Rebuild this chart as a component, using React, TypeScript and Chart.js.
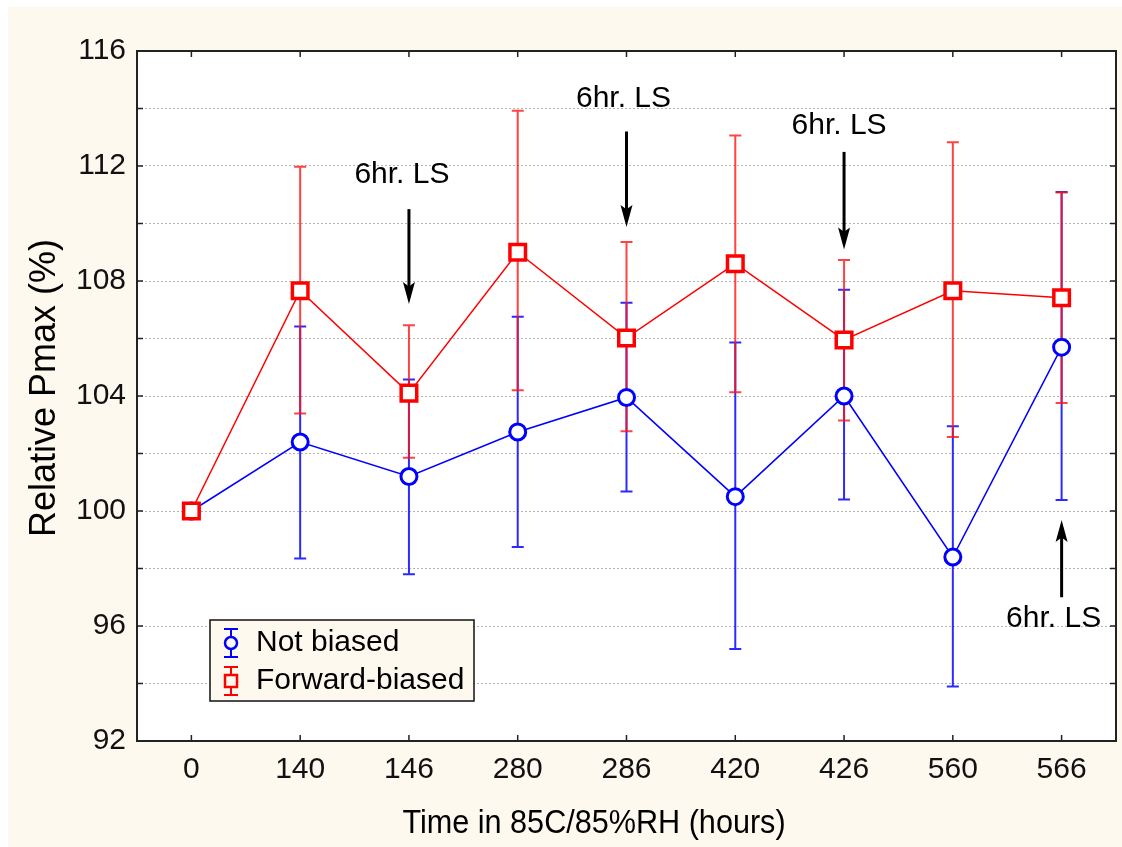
import React, { useEffect, useRef } from 'react';
import { Chart, registerables } from 'chart.js';

Chart.register(...registerables);

const categories = ['0', '140', '146', '280', '286', '420', '426', '560', '566'];

const notBiased = [100, 102.4, 101.2, 102.75, 103.95, 100.5, 104.0, 98.4, 105.7];
const notBiasedLow = [null, 98.35, 97.8, 98.75, 100.68, 95.2, 100.4, 93.9, 100.38];
const notBiasedHigh = [null, 106.42, 104.57, 106.76, 107.24, 105.86, 107.7, 102.95, 111.1];

const forwardBiased = [100, 107.66, 104.1, 109.0, 106.02, 108.6, 105.95, 107.66, 107.42];
const forwardLow = [null, 103.39, 101.85, 104.2, 102.77, 104.13, 103.15, 102.57, 103.76];
const forwardHigh = [null, 111.97, 106.46, 113.92, 109.36, 113.06, 108.73, 112.83, 111.08];

const yMin = 92;
const yMax = 116;
const yStep = 2;
const yLabelEvery = 4;

const seriesNames = ['Not biased', 'Forward-biased'];

const annotationText = '6hr. LS';
const annotationIndex = [2, 4, 6, 8];
const annotationLabelValue = [111.4, 114.05, 113.1, 95.96];
const arrowTailValue = [110.5, 113.2, 112.49, 97.0];
const arrowTipValue = [107.2, 109.88, 109.1, 99.69];

const xTitle = 'Time in 85C/85%RH (hours)';
const yTitle = 'Relative Pmax (%)';

const FONT = '"Liberation Sans", Arial, Helvetica, sans-serif';
const CREAM = '#fef9ef';
const BLUE = '#0000ff';
const RED = '#ff0000';

export default function App() {
  const ref = useRef<HTMLCanvasElement>(null);

  useEffect(() => {
    const canvas = ref.current;
    if (!canvas) return;

    const background = {
      id: 'bg',
      beforeDraw(chart: any) {
        const { ctx, chartArea } = chart;
        ctx.save();
        ctx.fillStyle = CREAM;
        ctx.fillRect(0, 0, chart.width, chart.height);
        ctx.fillStyle = '#ffffff';
        ctx.fillRect(chartArea.left, chartArea.top, chartArea.right - chartArea.left, chartArea.bottom - chartArea.top);
        ctx.restore();
      },
    };

    const drawErr = (chart: any, low: (number | null)[], high: (number | null)[], color: string) => {
      const { ctx, scales } = chart;
      const xs = scales.x;
      const ys = scales.y;
      ctx.save();
      ctx.strokeStyle = color;
      ctx.lineWidth = 2;
      for (let i = 0; i < categories.length; i++) {
        const lo = low[i];
        const hi = high[i];
        if (lo == null || hi == null) continue;
        const x = xs.getPixelForValue(i);
        const y1 = ys.getPixelForValue(lo);
        const y2 = ys.getPixelForValue(hi);
        ctx.beginPath();
        ctx.moveTo(x, y1);
        ctx.lineTo(x, y2);
        ctx.moveTo(x - 6, y1);
        ctx.lineTo(x + 6, y1);
        ctx.moveTo(x - 6, y2);
        ctx.lineTo(x + 6, y2);
        ctx.stroke();
      }
      ctx.restore();
    };

    const errorBars = {
      id: 'errorBars',
      beforeDatasetsDraw(chart: any) {
        drawErr(chart, notBiasedLow, notBiasedHigh, 'rgba(20,20,255,0.9)');
        drawErr(chart, forwardLow, forwardHigh, 'rgba(255,20,20,0.8)');
      },
    };

    const overlay = {
      id: 'overlay',
      afterDraw(chart: any) {
        const { ctx, chartArea, scales } = chart;
        const xs = scales.x;
        const ys = scales.y;
        const { left, right, top, bottom } = chartArea;
        ctx.save();

        // frame
        ctx.strokeStyle = '#222';
        ctx.lineWidth = 2;
        ctx.strokeRect(left, top, right - left, bottom - top);

        // inward ticks
        ctx.lineWidth = 1.5;
        ctx.beginPath();
        for (let i = 0; i < categories.length; i++) {
          const x = xs.getPixelForValue(i);
          ctx.moveTo(x, bottom);
          ctx.lineTo(x, bottom - 6);
          ctx.moveTo(x, top);
          ctx.lineTo(x, top + 6);
        }
        for (let v = yMin; v <= yMax; v += yStep) {
          const y = ys.getPixelForValue(v);
          ctx.moveTo(left, y);
          ctx.lineTo(left + 6, y);
          ctx.moveTo(right, y);
          ctx.lineTo(right - 6, y);
        }
        ctx.stroke();

        // annotations
        const labelOffsets = [-7, -3, -5, -8];
        ctx.fillStyle = '#000';
        ctx.strokeStyle = '#000';
        ctx.font = `30px ${FONT}`;
        ctx.textAlign = 'center';
        ctx.textBaseline = 'alphabetic';
        for (let k = 0; k < annotationIndex.length; k++) {
          const x = xs.getPixelForValue(annotationIndex[k]);
          ctx.fillText(annotationText, x + labelOffsets[k], ys.getPixelForValue(annotationLabelValue[k]));
          const yt = ys.getPixelForValue(arrowTailValue[k]);
          const yp = ys.getPixelForValue(arrowTipValue[k]);
          const dir = yp > yt ? 1 : -1;
          const headLen = 22;
          ctx.lineWidth = 3;
          ctx.beginPath();
          ctx.moveTo(x, yt);
          ctx.lineTo(x, yp - dir * headLen * 0.6);
          ctx.stroke();
          ctx.beginPath();
          ctx.moveTo(x, yp);
          ctx.lineTo(x - 6, yp - dir * headLen);
          ctx.lineTo(x, yp - dir * headLen * 0.8);
          ctx.lineTo(x + 6, yp - dir * headLen);
          ctx.closePath();
          ctx.fill();
        }

        // legend
        const bx = left + 73;
        const by = bottom - 121;
        const bw = 264;
        const bh = 81;
        ctx.fillStyle = CREAM;
        ctx.fillRect(bx, by, bw, bh);
        ctx.strokeStyle = '#111';
        ctx.lineWidth = 1.5;
        ctx.strokeRect(bx, by, bw, bh);
        const sx = left + 94;
        const rows = [bottom - 98, bottom - 60];
        const colors = [BLUE, RED];
        for (let r = 0; r < 2; r++) {
          const cy = rows[r];
          ctx.strokeStyle = colors[r];
          ctx.lineWidth = 2;
          ctx.beginPath();
          ctx.moveTo(sx, cy - 14);
          ctx.lineTo(sx, cy + 14);
          ctx.moveTo(sx - 7, cy - 14);
          ctx.lineTo(sx + 7, cy - 14);
          ctx.moveTo(sx - 7, cy + 14);
          ctx.lineTo(sx + 7, cy + 14);
          ctx.stroke();
          ctx.fillStyle = CREAM;
          ctx.lineWidth = 2.5;
          ctx.beginPath();
          if (r === 0) {
            ctx.arc(sx, cy, 6, 0, Math.PI * 2);
          } else {
            ctx.rect(sx - 6, cy - 6, 12, 12);
          }
          ctx.fill();
          ctx.stroke();
          ctx.fillStyle = '#000';
          ctx.font = `30px ${FONT}`;
          ctx.textAlign = 'left';
          ctx.textBaseline = 'middle';
          ctx.fillText(seriesNames[r], left + 119, cy);
        }

        // axis titles
        ctx.fillStyle = '#000';
        ctx.textAlign = 'center';
        ctx.textBaseline = 'alphabetic';
        ctx.save();
        ctx.font = `34px ${FONT}`;
        ctx.translate(586, 826);
        ctx.scale(0.9, 1);
        ctx.fillText(xTitle, 0, 0);
        ctx.restore();
        ctx.save();
        ctx.font = `36px ${FONT}`;
        ctx.translate(37, 381);
        ctx.rotate(-Math.PI / 2);
        ctx.textBaseline = 'middle';
        ctx.fillText(yTitle, 0, 0);
        ctx.restore();

        ctx.restore();
      },
    };

    const chart = new Chart(canvas, {
      type: 'line',
      data: {
        labels: categories,
        datasets: [
          {
            label: seriesNames[1],
            data: forwardBiased,
            borderColor: RED,
            borderWidth: 1.5,
            pointStyle: 'rect',
            pointRadius: 11,
            pointBorderWidth: 3.5,
            pointBackgroundColor: '#ffffff',
            pointBorderColor: RED,
            tension: 0,
            order: 0,
          },
          {
            label: seriesNames[0],
            data: notBiased,
            borderColor: BLUE,
            borderWidth: 1.5,
            pointStyle: 'circle',
            pointRadius: 8,
            pointBorderWidth: 3,
            pointBackgroundColor: '#ffffff',
            pointBorderColor: BLUE,
            tension: 0,
            order: 1,
          },
        ],
      },
      options: {
        responsive: false,
        animation: false,
        layout: { autoPadding: false, padding: { top: 44, right: 6, left: 0, bottom: 0 } },
        plugins: {
          legend: { display: false },
          tooltip: { enabled: false },
        },
        scales: {
          x: {
            type: 'category',
            offset: true,
            grid: { display: false, drawTicks: false },
            border: { display: false },
            ticks: {
              font: { family: FONT, size: 30 },
              color: '#111',
              padding: 11,
              maxRotation: 0,
              autoSkip: false,
            },
            afterFit(s: any) {
              s.height = 106;
              s.paddingLeft = 0;
              s.paddingRight = 0;
            },
          },
          y: {
            min: yMin,
            max: yMax,
            ticks: {
              stepSize: yStep,
              font: { family: FONT, size: 30 },
              color: '#111',
              padding: 11,
              callback: (v: any) => (Number(v) % yLabelEvery === 0 ? String(v) : ''),
            },
            grid: { color: '#b4b4b4', lineWidth: 1, drawTicks: false },
            border: { display: false, dash: [2, 2] },
            afterFit(s: any) {
              s.width = 129;
              s.paddingTop = 0;
              s.paddingBottom = 0;
            },
          },
        },
      },
      plugins: [background, errorBars, overlay],
    });

    return () => chart.destroy();
  }, []);

  return (
    <div style={{ position: 'absolute', left: 8, top: 7, width: 1114, height: 840 }}>
      <canvas ref={ref} width={1114} height={840} style={{ width: 1114, height: 840, display: 'block' }} />
    </div>
  );
}
